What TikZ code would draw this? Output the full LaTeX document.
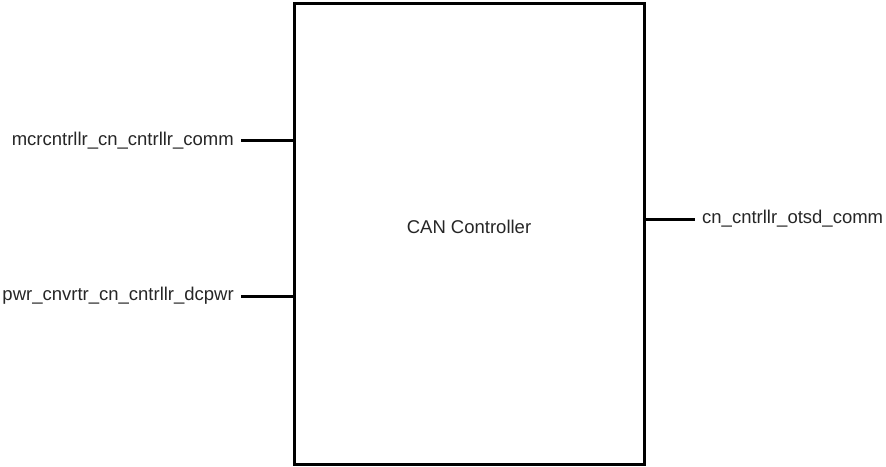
\documentclass[tikz,border=0pt]{standalone}
\usepackage{fontspec}
\setmainfont{Liberation Sans}
\begin{document}
\begin{tikzpicture}[x=1pt,y=-1pt,
  blk/.style={draw=black,line width=3pt,minimum width=350pt,minimum height=461pt,inner sep=0pt},
  wire/.style={draw=black,line width=3pt},
  lbl/.style={font=\fontsize{18.5}{20}\selectfont,text=black!85,inner sep=0pt}]
\useasboundingbox (0,0) rectangle (886,466);
\node[blk] (can) at (469,233.5) {};
\node[lbl] (title) at (469,227) {CAN Controller};
\coordinate (p1) at (241,140.5);
\coordinate (p2) at (241,296);
\coordinate (p3) at (695,219);
\node[lbl,anchor=east] (l1) at (234,140.5) {mcrcntrllr\_cn\_cntrllr\_comm};
\node[lbl,anchor=east] (l2) at (234,296) {pwr\_cnvrtr\_cn\_cntrllr\_dcpwr};
\node[lbl,anchor=west] (l3) at (702,219) {cn\_cntrllr\_otsd\_comm};
\draw[wire] (p1) -- (can.west |- p1);
\draw[wire] (p2) -- (can.west |- p2);
\draw[wire] (can.east |- p3) -- (p3);
\end{tikzpicture}
\end{document}
